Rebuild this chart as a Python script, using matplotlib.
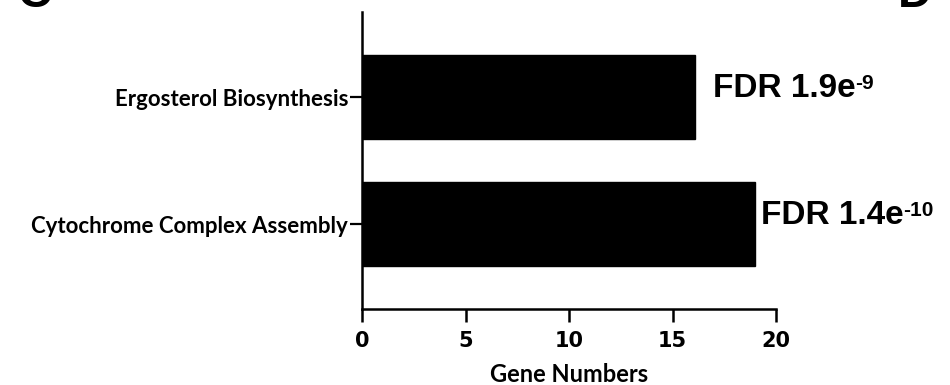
import matplotlib.pyplot as plt

# данные с картинки
terms = ["Cytochrome Complex Assembly", "Ergosterol Biosynthesis"]
gene_counts = [19, 16.1]
fdr_base = ["FDR 1.4e", "FDR 1.9e"]
fdr_exp = ["-10", "-9"]
x_ticks = [0, 5, 10, 15, 20]

fig = plt.figure(figsize=(9.5, 3.85), dpi=100)
ax = fig.add_axes([0.381, 0.197, 0.436, 0.772])

pos = list(range(len(terms)))
ax.barh(pos, gene_counts, height=0.66, color="black", edgecolor="black")

ax.set_xlim(0, 20)
ax.set_ylim(-0.67, 1.67)
ax.set_xticks(x_ticks)
ax.set_xticklabels([str(t) for t in x_ticks], family="Liberation Sans Narrow",
                   fontweight="bold", fontsize=15)
ax.set_yticks(pos)
ax.set_yticklabels(terms, family="Lato", fontweight="bold", fontsize=16)
ax.set_xlabel("Gene Numbers", family="Lato", fontweight="bold", fontsize=17,
              labelpad=8.5)

for side in ["top", "right"]:
    ax.spines[side].set_visible(False)
for side in ["left", "bottom"]:
    ax.spines[side].set_linewidth(1.8)
ax.tick_params(axis="y", length=9, width=1.6, pad=1)
ax.tick_params(axis="x", length=9, width=1.8, pad=7)

# подписи FDR
offsets = [0.25, 0.85]
for p, v, base, exp, off in zip(pos, gene_counts, fdr_base, fdr_exp, offsets):
    t = ax.text(v + off, p, base, family="Liberation Sans", fontweight="bold",
                fontsize=24, va="baseline", ha="left")
    ax.annotate(exp, xy=(1, 0.97), xycoords=t, va="top", ha="left",
                family="Liberation Sans", fontweight="bold", fontsize=15)

# обрезанные буквы панелей
fig.text(0.018, 0.982, "C", family="Liberation Sans", fontweight="bold",
         fontsize=34, va="baseline")
fig.text(0.945, 0.982, "D", family="Liberation Sans", fontweight="bold",
         fontsize=34, va="baseline")

fig.savefig("out.png", dpi=100)
